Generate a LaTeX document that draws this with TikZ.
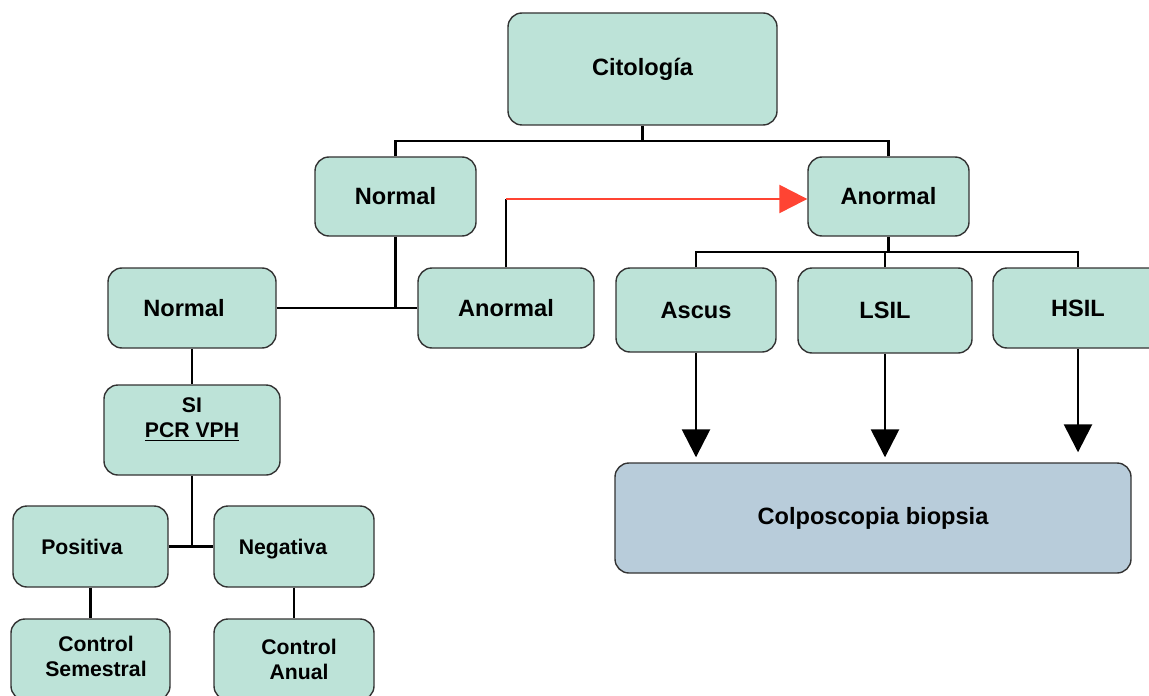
\documentclass[tikz,border=0pt]{standalone}
\usepackage{fontspec}
\setmainfont{Liberation Sans}
\usepackage{tikz}
\usetikzlibrary{arrows.meta}
\usetikzlibrary{calc}

\definecolor{boxgreen}{RGB}{189,227,216}
\definecolor{boxblue}{RGB}{184,204,218}
\definecolor{arrowred}{RGB}{255,68,51}

\begin{document}
\begin{tikzpicture}[x=0.5pt, y=-0.5pt,
        node_style/.style={rectangle,rounded corners=7pt,draw=black!80,line width=0.7pt,fill=boxgreen,inner sep=0pt,align=center,font=\fontsize{11.8}{14}\selectfont\bfseries},
        small_node_style/.style={node_style,font=\fontsize{10.6}{12.5}\selectfont\bfseries},
        result_node_style/.style={node_style,fill=boxblue},
        edge_style/.style={draw=black, line width=1.3pt},
        arrow_style/.style={draw=black, line width=1.3pt, -{Triangle[width=14pt,length=14pt]}, shorten >=2.5pt},
        red_edge_style/.style={draw=arrowred, line width=1.2pt, -{Triangle[width=14pt,length=14pt]}}]

        \useasboundingbox (0,0) rectangle (1149,695);
        \clip (0,0) rectangle (1149,695);

        \node [node_style, minimum width=134.5pt, minimum height=56pt](cito) at (642.5,69) {Citología};

        \node [node_style, minimum width=80.5pt, minimum height=39.5pt](normA) at (395.5,196.5) {Normal};

        \node [node_style, minimum width=80.5pt, minimum height=39.5pt](anorA) at (888.5,196.5) {Anormal};

        \node [node_style, minimum width=84pt, minimum height=40pt](normB) at (192,308) {Normal\hspace*{8pt}};

        \node [node_style, minimum width=88pt, minimum height=40pt](anorB) at (506,308) {Anormal};

        \node [node_style, minimum width=80pt, minimum height=42pt](ascus) at (696,310) {Ascus};

        \node [node_style, minimum width=87pt, minimum height=42.5pt](lsil) at (885,310.5) {LSIL};

        \node [node_style, minimum width=85pt, minimum height=40pt](hsil) at (1078,308) {HSIL};

        \node [result_node_style, minimum width=258pt, minimum height=55pt](colpo) at (873,518) {Colposcopia biopsia};

        \node [small_node_style, minimum width=88pt, minimum height=45pt](pcr) at (192,430) {SI\\\underline{PCR VPH}\\\mbox{}};

        \node [small_node_style, text depth=0pt, minimum width=77.5pt, minimum height=40.5pt](posi) at (90.5,546.5) {Positiva\hspace*{8.5pt}};

        \node [small_node_style, text depth=0pt, minimum width=80pt, minimum height=40.5pt](nega) at (294,546.5) {Negativa\hspace*{11pt}};

        \node [small_node_style, minimum width=79.5pt, minimum height=40.5pt](csem) at (90.5,659.5) {\hspace*{5.5pt}Control\\\hspace*{5.5pt}Semestral\\[-9pt]\mbox{}};

        \node [small_node_style, minimum width=80pt, minimum height=40.5pt](canu) at (294,659.5) {\hspace*{5pt}Control\\\hspace*{5pt}Anual};

        \coordinate (top_split) at (642.5,141);
        \coordinate (abn_split) at (888.5,252);
        \coordinate (red_end) at ([yshift=-1.25pt]anorA.west);

        % citologia branches
        \draw [edge_style] (cito.south) -- (top_split);
        \draw [edge_style] (normA.north) |- (top_split) -| (anorA.north);

        % normal branch
        \draw [edge_style] (normA.south) -- (normA.south |- normB.east);
        \draw [edge_style] (normB.east) -- (anorB.west);
        \draw [edge_style] (anorB.north) -- (anorB.north |- red_end);
        \draw [red_edge_style] (anorB.north |- red_end) -- (red_end);

        % anormal branch
        \draw [edge_style] (anorA.south) -- (abn_split);
        \draw [edge_style] (ascus.north) |- (abn_split) -| (hsil.north);
        \draw [edge_style] (lsil.north) -- (lsil.north |- abn_split);

        \draw [arrow_style] (ascus.south) -- (ascus.south |- colpo.north);
        \draw [arrow_style] (lsil.south) -- (lsil.south |- colpo.north);
        \draw [arrow_style, shorten >=5pt] (hsil.south) -- (hsil.south |- colpo.north);

        % pcr branch
        \draw [edge_style] (normB.south) -- (pcr.north);
        \draw [edge_style] (pcr.south) -- (pcr.south |- posi.east);
        \draw [edge_style] (posi.east) -- (nega.west);
        \draw [edge_style] (posi.south) -- (csem.north);
        \draw [edge_style] (nega.south) -- (canu.north);

\end{tikzpicture}
\end{document}
